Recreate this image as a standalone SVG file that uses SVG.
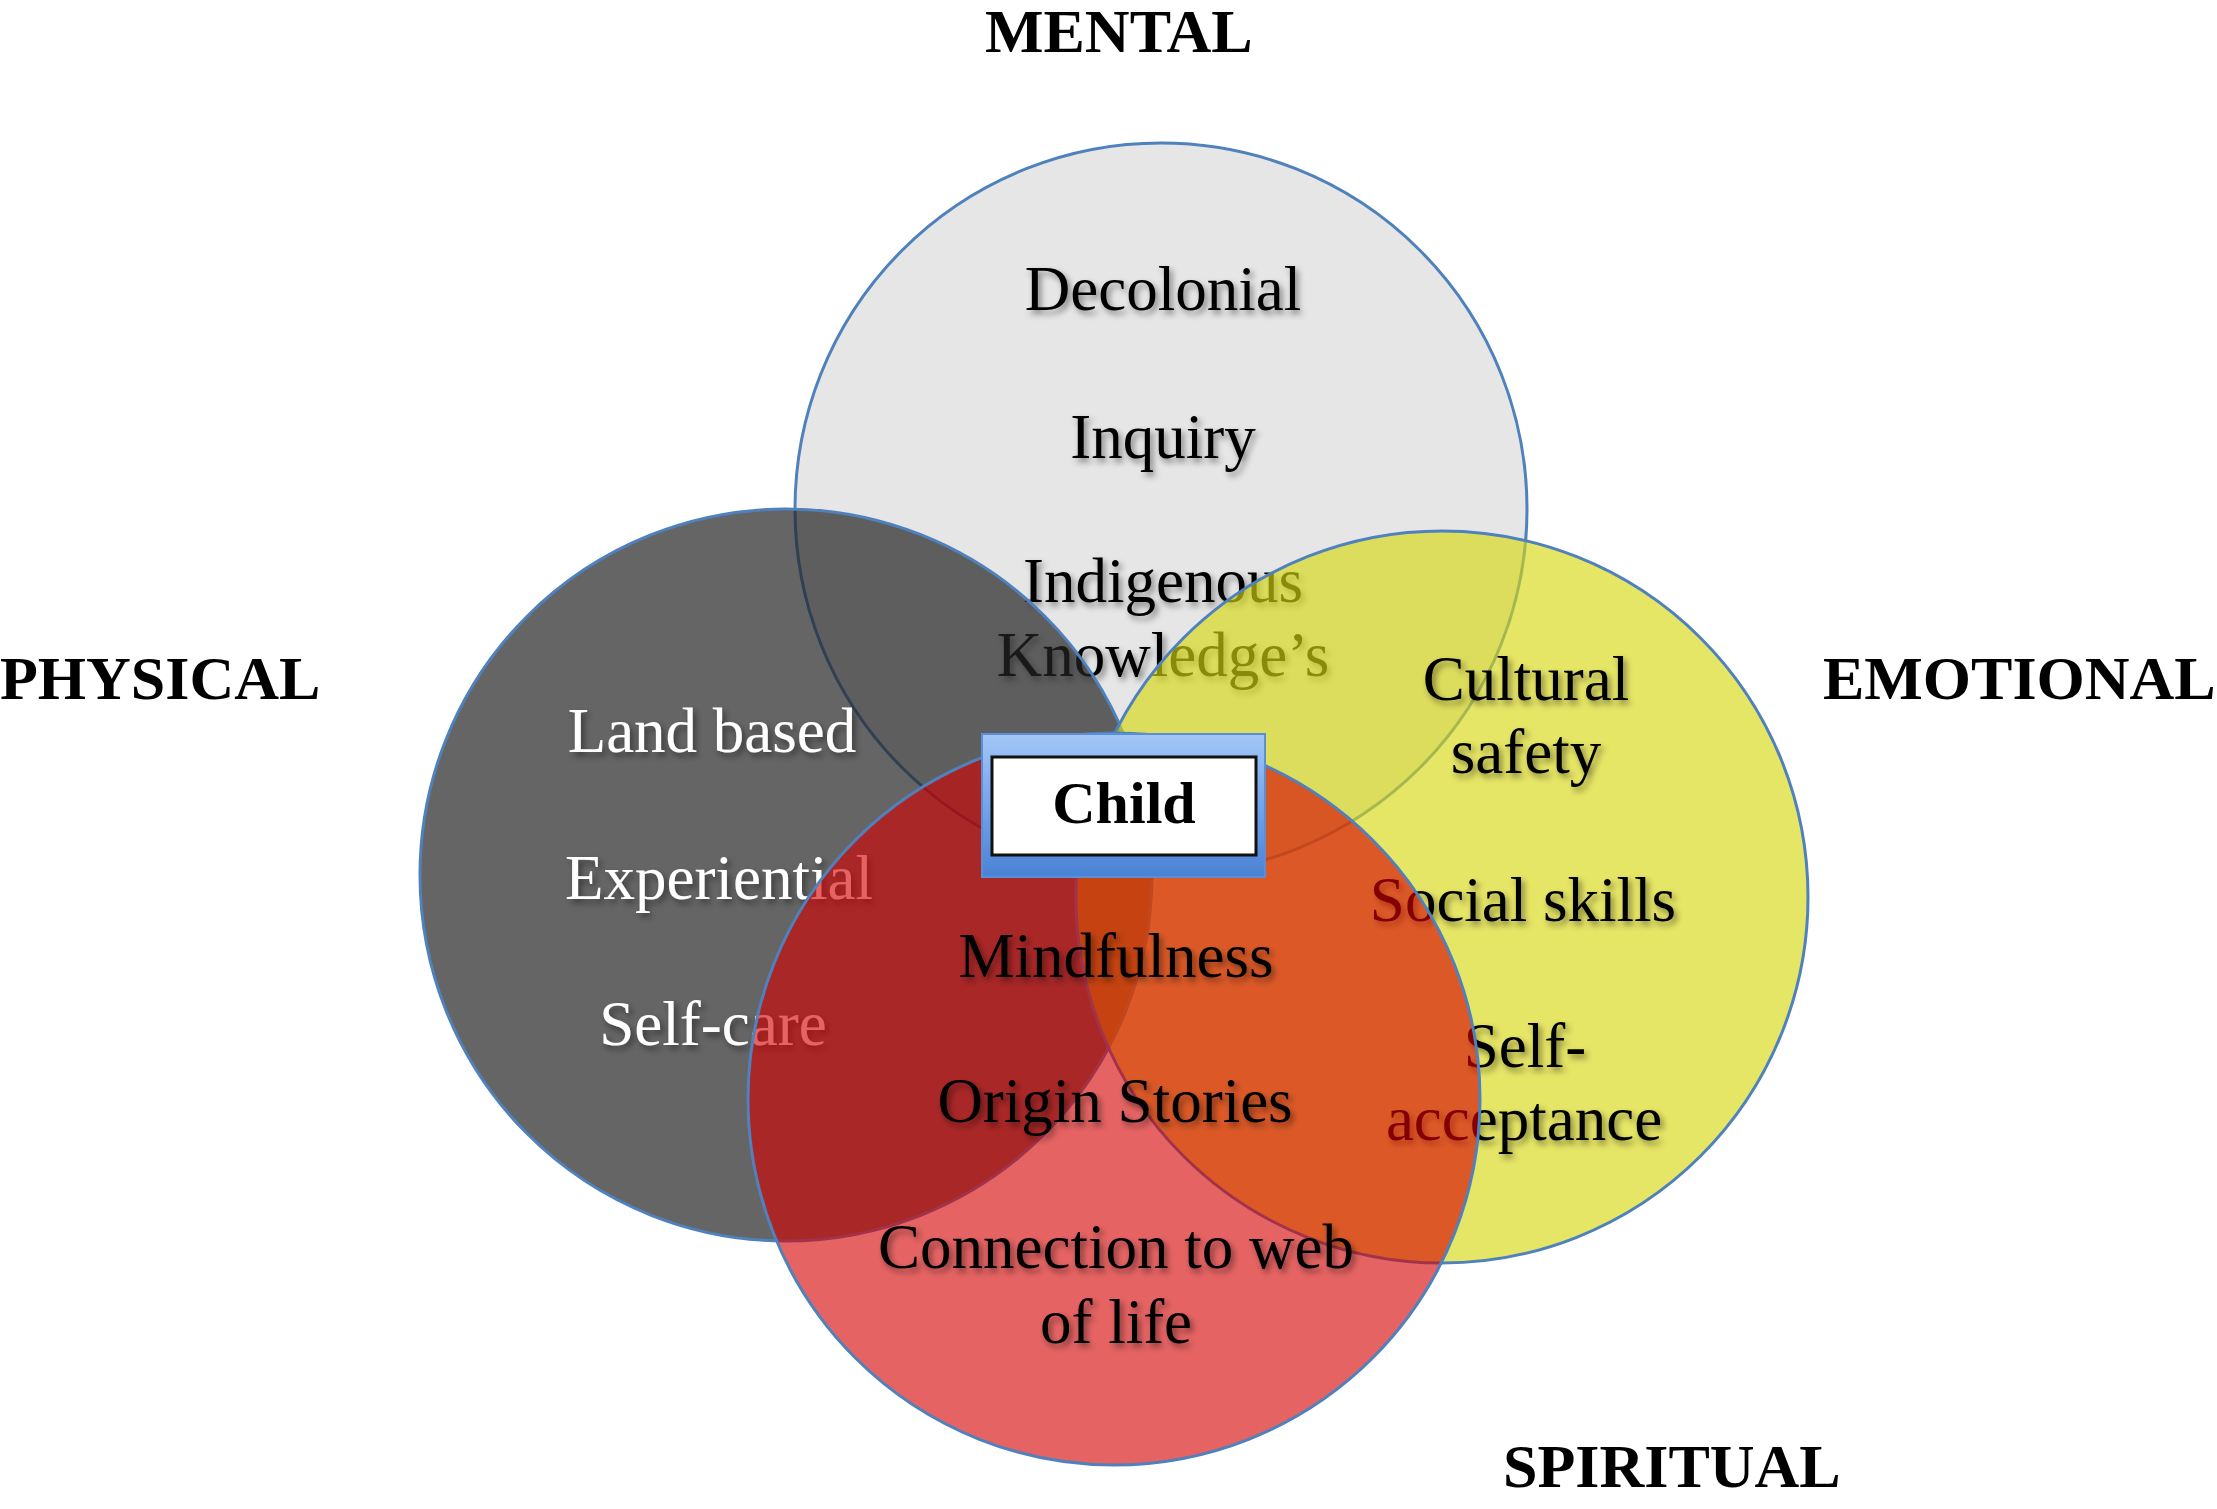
<svg xmlns="http://www.w3.org/2000/svg" width="2217" height="1509" viewBox="0 0 2217 1509">
<style>
.circ{stroke:#4f81bd;stroke-width:3}
.t{font-family:"Liberation Serif","Times New Roman",serif;font-size:63px;text-anchor:middle;filter:url(#ts)}
.dk{fill:#000}
.wt{fill:#fff}
.lbl{font-family:"Liberation Serif","Times New Roman",serif;font-size:62px;font-weight:bold;fill:#000}
</style>
<defs>
<filter id="ts" x="-10%" y="-30%" width="130%" height="170%">
<feGaussianBlur in="SourceAlpha" stdDeviation="3"/>
<feOffset dx="3" dy="4" result="b"/>
<feFlood flood-color="#000" flood-opacity="0.45"/>
<feComposite in2="b" operator="in"/>
<feMerge><feMergeNode/><feMergeNode in="SourceGraphic"/></feMerge>
</filter>
<linearGradient id="frame" x1="0" y1="0" x2="0" y2="1">
<stop offset="0" stop-color="#a3c6f6"/>
<stop offset="0.5" stop-color="#74a4ea"/>
<stop offset="1" stop-color="#4a82d4"/>
</linearGradient>
</defs>
<rect width="2217" height="1509" fill="#fff"/>

<g id="labels">
<text class="lbl" x="985" y="52">MENTAL</text>
<text class="lbl" x="0" y="699">PHYSICAL</text>
<text class="lbl" x="1823" y="699">EMOTIONAL</text>
<text class="lbl" x="1503" y="1487">SPIRITUAL</text>
</g>

<g id="node-mental">
<circle class="circ" cx="1161" cy="509" r="366" fill="#e6e6e6"/>
<text class="t dk" x="1163" y="310">Decolonial</text>
<text class="t dk" x="1163" y="458">Inquiry</text>
<text class="t dk" x="1163" y="602">Indigenous</text>
<text class="t dk" x="1163" y="676">Knowledge’s</text>
</g>

<g id="node-physical">
<circle class="circ" cx="786" cy="875" r="366" fill="#242424" fill-opacity="0.7"/>
<text class="t wt" x="712" y="752">Land based</text>
<text class="t wt" x="719" y="899">Experiential</text>
<text class="t wt" x="713" y="1045">Self-care</text>
</g>

<g id="node-emotional">
<circle class="circ" cx="1442" cy="897" r="366" fill="#d6d610" fill-opacity="0.64"/>
<text class="t dk" x="1526" y="700">Cultural</text>
<text class="t dk" x="1526" y="773">safety</text>
<text class="t dk" x="1523" y="921">Social skills</text>
<text class="t dk" x="1525" y="1067">Self-</text>
<text class="t dk" x="1524" y="1140">acceptance</text>
</g>

<g id="node-spiritual">
<circle class="circ" cx="1114" cy="1099" r="366" fill="#d60000" fill-opacity="0.61"/>
<text class="t dk" x="1116" y="977">Mindfulness</text>
<text class="t dk" x="1115" y="1122">Origin Stories</text>
<text class="t dk" x="1116" y="1268">Connection to web</text>
<text class="t dk" x="1116" y="1343">of life</text>
</g>

<g id="node-child">
<rect x="982" y="734" width="283" height="143" fill="url(#frame)" stroke="#5a8fd8" stroke-width="2"/>
<rect x="992" y="757" width="264" height="98" fill="#fff" stroke="#111" stroke-width="3"/>
<text x="1124" y="823" font-family="Liberation Serif, Times New Roman, serif" font-size="60" font-weight="bold" text-anchor="middle" fill="#000">Child</text>
</g>

<g id="connectors"/>
</svg>
